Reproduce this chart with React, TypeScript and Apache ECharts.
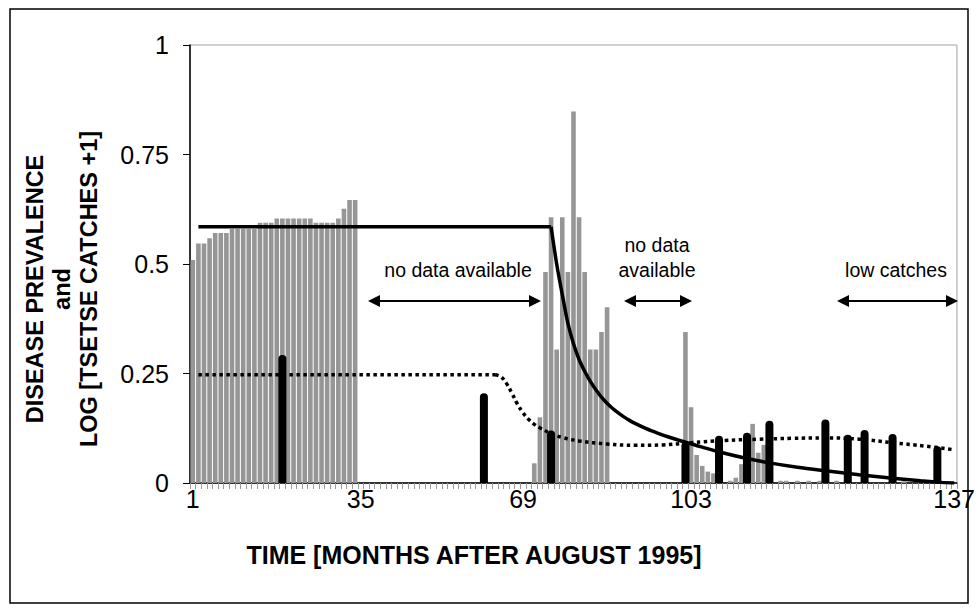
import React, { useEffect, useRef } from "react";
import * as echarts from "echarts";

const FONT = "'Liberation Sans', Arial, sans-serif";

const months = Array.from({ length: 137 }, (_, i) => String(i + 1));

// x tick labels as printed on the original axis, and the category slot each one sits under
const xTickLabels = ["1", "35", "69", "103", "137"];
const xTickSlots = [0, 30, 59, 89, 136];

// Gray bars (tsetse catches)
const grayStart1 = 1;
const grayValues1 = [
  0.509, 0.547, 0.547, 0.559, 0.571, 0.571, 0.571, 0.58, 0.58, 0.58, 0.58, 0.58,
  0.594, 0.594, 0.594, 0.604, 0.604, 0.604, 0.604, 0.604, 0.604, 0.604, 0.594,
  0.594, 0.594, 0.594, 0.604, 0.626, 0.646, 0.646,
];
const grayStart2 = 62;
const grayValues2 = [0.045, 0.15, 0.482, 0.607, 0.305, 0.607, 0.482, 0.848, 0.607, 0.482, 0.305, 0.305, 0.345, 0.401];
const grayStart3 = 89;
const grayValues3 = [0.345, 0.173, 0.064, 0.039, 0.026, 0.022, 0, 0, 0.005, 0.012, 0.043, 0, 0.135, 0.069, 0.087];
const grayLowMonths = [106, 107, 109, 111, 113, 116, 128];
const grayLowValues = [0.005, 0.005, 0.005, 0.005, 0.005, 0.005, 0.004];

// Black bars (disease prevalence)
const blackMonths = [17, 53, 65, 89, 95, 100, 104, 114, 118, 121, 126, 134];
const blackValues = [0.292, 0.205, 0.12, 0.094, 0.108, 0.115, 0.142, 0.145, 0.11, 0.121, 0.112, 0.084];

// Solid model line: flat part, then decay
const solidFlatMonths = [2, 65];
const solidFlatValues = [0.585, 0.585];
const solidDecayMonths = [65, 66, 67, 68, 69, 70, 71, 72, 73, 74, 75, 76, 77, 78, 79, 80, 82, 84, 86, 89, 92, 96, 100, 104, 109, 114, 120, 126, 131, 134, 137];
const solidDecayValues = [0.585, 0.5, 0.43, 0.365, 0.318, 0.282, 0.255, 0.232, 0.213, 0.196, 0.182, 0.17, 0.16, 0.151, 0.143, 0.136, 0.124, 0.114, 0.105, 0.093, 0.082, 0.068, 0.056, 0.046, 0.036, 0.028, 0.019, 0.011, 0.005, 0.002, 0];

// Dotted model line: flat part, then curve
const dottedFlatMonths = [2, 55];
const dottedFlatValues = [0.247, 0.247];
const dottedCurveMonths = [55, 56, 57, 58, 59, 60, 61, 62, 63, 65, 67, 70, 75, 80, 85, 90, 96, 102, 108, 114, 120, 126, 132, 137];
const dottedCurveValues = [0.247, 0.243, 0.228, 0.205, 0.18, 0.16, 0.145, 0.134, 0.126, 0.113, 0.104, 0.096, 0.089, 0.086, 0.087, 0.092, 0.097, 0.1, 0.102, 0.103, 0.1, 0.092, 0.084, 0.076];

function buildGray(): number[] {
  const arr = new Array(137).fill(0);
  grayValues1.forEach((v, i) => (arr[grayStart1 - 1 + i] = v));
  grayValues2.forEach((v, i) => (arr[grayStart2 - 1 + i] = v));
  grayValues3.forEach((v, i) => (arr[grayStart3 - 1 + i] = v));
  grayLowMonths.forEach((m, i) => (arr[m - 1] = grayLowValues[i]));
  return arr;
}

function buildBlack(): (number | null)[] {
  const arr: (number | null)[] = new Array(137).fill(null);
  blackMonths.forEach((m, i) => (arr[m - 1] = blackValues[i]));
  return arr;
}

function pairs(ms: number[], vs: number[]) {
  return ms.map((m, i) => [String(m), vs[i]]);
}

function arrow(x1: number, x2: number, y: number) {
  const h = 12;
  const w = 6;
  return [
    { type: "line", shape: { x1: x1 + h - 1, y1: y, x2: x2 - h + 1, y2: y }, style: { stroke: "#000", lineWidth: 2 } },
    { type: "polygon", shape: { points: [[x1, y], [x1 + h, y - w], [x1 + h, y + w]] }, style: { fill: "#000" } },
    { type: "polygon", shape: { points: [[x2, y], [x2 - h, y - w], [x2 - h, y + w]] }, style: { fill: "#000" } },
  ];
}

function label(text: string, x: number, y: number, size = 19.5) {
  return {
    type: "text",
    x,
    y,
    style: { text, font: `${size}px ${FONT}`, fill: "#000", textAlign: "center", textVerticalAlign: "middle" },
  };
}

const dotted = { color: "#000", width: 3.5, type: [3.5, 3.5] };
const solid = { color: "#000", width: 3.5 };

export default function App() {
  const ref = useRef<HTMLDivElement>(null);
  useEffect(() => {
    if (!ref.current) return;
    const chart = echarts.init(ref.current, undefined, { renderer: "svg" });
    const option = {
      animation: false,
      backgroundColor: "#fff",
      grid: { left: 190, right: 19, top: 45, bottom: 129, show: true, borderColor: "#a0a0a0", borderWidth: 1 },
      xAxis: [
        {
          type: "category",
          data: months,
          boundaryGap: true,
          axisLine: { lineStyle: { color: "#000", width: 1.5 } },
          axisTick: { show: true, interval: 0, length: 6, lineStyle: { color: "#999" } },
          axisLabel: {
            interval: (i: number) => xTickSlots.includes(i),
            formatter: (_v: string, i: number) => {
              const k = xTickSlots.indexOf(i);
              return k >= 0 ? xTickLabels[k] : "";
            },
            fontSize: 25,
            color: "#000",
            margin: 3,
            fontFamily: FONT,
          },
          splitLine: { show: false },
        },
        { type: "category", data: months, show: false, boundaryGap: true },
      ],
      yAxis: {
        type: "value",
        min: 0,
        max: 1,
        interval: 0.25,
        axisLine: { show: true, lineStyle: { color: "#000", width: 1.5 } },
        axisTick: { show: true, length: 7, lineStyle: { color: "#000" } },
        splitLine: { show: false },
        axisLabel: { fontSize: 25, color: "#000", margin: 21, fontFamily: FONT },
      },
      series: [
        {
          type: "bar",
          xAxisIndex: 0,
          data: buildGray(),
          barCategoryGap: "18%",
          itemStyle: { color: "#969696" },
          z: 2,
        },
        {
          type: "bar",
          xAxisIndex: 1,
          data: buildBlack(),
          barWidth: 8,
          itemStyle: { color: "#000", borderRadius: [4, 4, 0, 0] },
          z: 3,
        },
        { type: "line", xAxisIndex: 0, data: pairs(dottedFlatMonths, dottedFlatValues), symbol: "none", lineStyle: dotted, z: 4 },
        { type: "line", xAxisIndex: 0, data: pairs(dottedCurveMonths, dottedCurveValues), symbol: "none", smooth: 0.4, lineStyle: dotted, z: 4 },
        { type: "line", xAxisIndex: 0, data: pairs(solidFlatMonths, solidFlatValues), symbol: "none", lineStyle: solid, z: 5 },
        { type: "line", xAxisIndex: 0, data: pairs(solidDecayMonths, solidDecayValues), symbol: "none", smooth: 0.3, lineStyle: solid, z: 5 },
      ],
      graphic: [
        { type: "rect", shape: { x: 10, y: 9, width: 958, height: 594 }, style: { fill: "none", stroke: "#000", lineWidth: 1.5 }, silent: true },
        {
          type: "text",
          x: 62,
          y: 289,
          rotation: Math.PI / 2,
          style: {
            text: "DISEASE PREVALENCE\nand\nLOG [TSETSE CATCHES +1]",
            font: `bold 23.5px ${FONT}`,
            fill: "#000",
            textAlign: "center",
            textVerticalAlign: "middle",
            lineHeight: 27,
          },
        },
        {
          type: "text",
          x: 474,
          y: 555,
          style: { text: "TIME [MONTHS AFTER AUGUST 1995]", font: `bold 25px ${FONT}`, fill: "#000", textAlign: "center", textVerticalAlign: "middle" },
        },
        label("no data available", 458, 270),
        label("no data", 657, 245),
        label("available", 657, 270),
        label("low catches", 896, 270),
        ...arrow(368, 541, 301),
        ...arrow(624, 692, 301),
        ...arrow(837, 958, 301),
      ],
    };
    chart.setOption(option as any);
    return () => chart.dispose();
  }, []);
  return <div ref={ref} style={{ position: "fixed", left: 0, top: 0, width: 978, height: 612 }} />;
}
